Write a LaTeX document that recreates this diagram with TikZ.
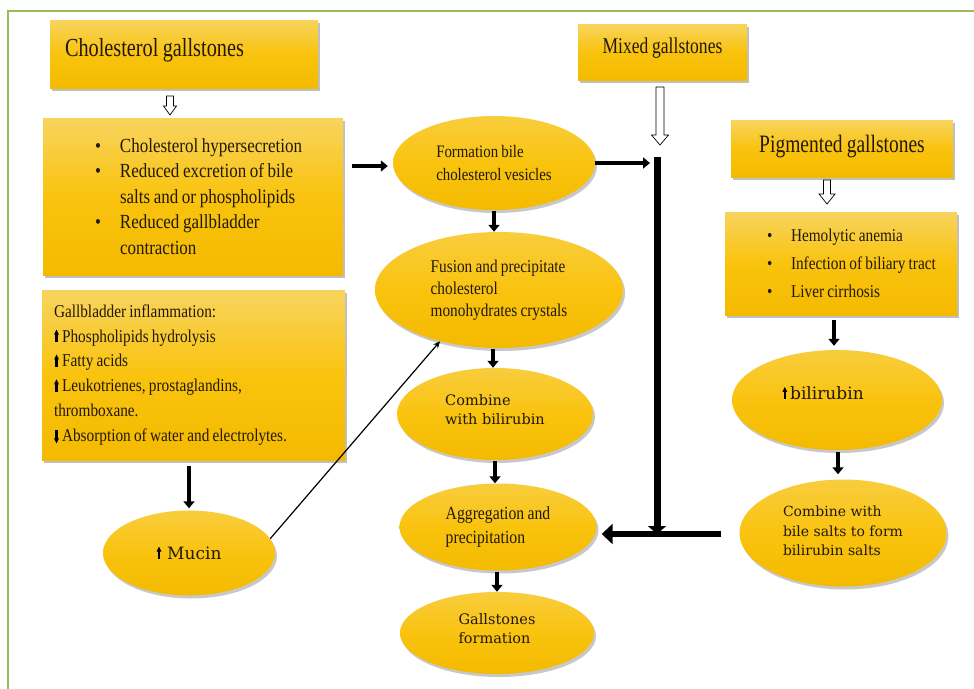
\documentclass[tikz,border=0pt]{standalone}
\usepackage{fontspec}
\setmainfont[FakeStretch=0.85,WordSpace=0.85]{Liberation Serif}
\newfontfamily\cond[FakeStretch=0.78,WordSpace=0.85]{Liberation Serif}
\newfontfamily\wide{DejaVu Serif}
\usetikzlibrary{arrows.meta,shapes.geometric,shadows,calc}
\definecolor{txt}{HTML}{22190A}
\definecolor{gtop}{HTML}{F8D45E}
\definecolor{gmid}{HTML}{F9C30E}
\definecolor{gbot}{HTML}{F4BA00}
\definecolor{frame}{HTML}{9BBB59}
\newcommand\myup{\tikz[baseline=0pt,x=1pt,y=1pt]{\fill[black] (-1.2,0) rectangle (1.2,8); \fill[black] (-2.5,7.5) -- (2.5,7.5) -- (0,12.5) -- cycle;}}
\newcommand\mydown{\tikz[baseline=2pt,x=1pt,y=1pt]{\fill[black] (-1.2,13) rectangle (1.2,4.5); \fill[black] (-2.5,5) -- (2.5,5) -- (0,0) -- cycle;}}
\newcommand\fs[2]{\fontsize{#1}{#2}\selectfont}
\begin{document}
\begin{tikzpicture}[x=1pt,y=-1pt,
  gbox/.style={rectangle, draw=none, top color=gtop, bottom color=gbot, middle color=gmid,
    drop shadow={shadow xshift=2pt, shadow yshift=-3pt, opacity=0.35, fill=black!70},
    text=txt, inner sep=0pt},
  gell/.style={ellipse, draw=none, top color=gtop!60!gmid, bottom color=gbot, middle color=gmid,
    drop shadow={shadow xshift=2pt, shadow yshift=-3pt, opacity=0.3, fill=black!70},
    text=txt, inner sep=0pt, align=flush left},
  thickarr/.style={line width=4pt, -{Triangle[length=7pt,width=11pt]}},
  bararr/.style={line width=7pt, -{Triangle[length=8pt,width=18pt]}},
  thinarr/.style={line width=1.2pt, -{Stealth[length=7pt,width=6pt]}},
  hollowsty/.style={draw=black, fill=white, line width=0.7pt, line join=miter},
  framesty/.style={draw=frame, line width=1.5pt}
]
\useasboundingbox (0,0) rectangle (974,688);
\fill[white] (0,0) rectangle (974,688);
\draw[framesty] (990,11) -- (8,11) -- (8,700);

% left column
\node[gbox, minimum width=268pt, minimum height=68pt, text width=238pt, align=flush left, text depth=14pt,
  font=\cond\fs{26}{30}] (chol) at (184,54) {Cholesterol gallstones};
\node[gbox, minimum width=300pt, minimum height=157pt, text width=260pt, inner xsep=20pt, align=flush left,
  font=\fs{20}{25.5}] (bul1) at (193,196.5) {%
  \hspace*{32pt}\makebox[25pt][l]{•}Cholesterol hypersecretion\\
  \hspace*{32pt}\makebox[25pt][l]{•}Reduced excretion of bile\\
  \hspace*{57pt}salts and or phospholipids\\
  \hspace*{32pt}\makebox[25pt][l]{•}Reduced gallbladder\\
  \hspace*{57pt}contraction};
\node[gbox, minimum width=303pt, minimum height=170pt, text width=279pt, inner xsep=12pt, align=flush left,
  font=\fs{18}{24.8}] (gb) at (193.5,375) {%
  Gallbladder inflammation:\\
  \myup\,Phospholipids hydrolysis\\
  \myup\,Fatty acids\\
  \myup\,Leukotrienes, prostaglandins,\\
  thromboxane.\\
  \mydown\,Absorption of water and electrolytes.};
\node[gell, minimum width=172pt, minimum height=85pt, font=\wide\fs{17}{20}] (muc) at (189,553)
  {\myup\,\,Mucin};

% centre column
\node[gell, minimum width=202pt, minimum height=94pt, font=\fs{17.5}{23}] (form) at (494,163)
  {Formation bile\\cholesterol vesicles};
\node[gell, minimum width=248pt, minimum height=116pt, font=\fs{18}{22}] (fus) at (499,290)
  {Fusion and precipitate\\cholesterol\\monohydrates crystals};
\node[gell, minimum width=196pt, minimum height=92pt, font=\wide\fs{14.5}{19.5}] (comb) at (495,414)
  {Combine\\with bilirubin\\[-10pt]\mbox{}};
\node[gell, minimum width=197pt, minimum height=87pt, font=\fs{18.5}{24}] (agg) at (498,527)
  {Aggregation and\\precipitation};
\node[gell, minimum width=194pt, minimum height=82pt, font=\wide\fs{14.5}{19.5}] (gal) at (497,633)
  {Gallstones\\formation\\[-10pt]\mbox{}};

% right column
\node[gbox, minimum width=169pt, minimum height=56pt, text depth=12pt, font=\cond\fs{22.5}{26}] (mix) at (662.5,52)
  {Mixed gallstones};
\node[gbox, minimum width=222pt, minimum height=57pt, text depth=10pt, font=\cond\fs{25}{29}] (pig) at (842,148.5)
  {Pigmented gallstones};
\node[gbox, minimum width=232pt, minimum height=103pt, text width=208pt, inner xsep=12pt, align=flush left,
  font=\fs{18}{28}] (bul2) at (841,263.5) {%
  \hspace*{30pt}\makebox[24pt][l]{•}Hemolytic anemia\\
  \hspace*{30pt}\makebox[24pt][l]{•}Infection of biliary tract\\
  \hspace*{30pt}\makebox[24pt][l]{•}Liver cirrhosis};
\node[gell, minimum width=210pt, minimum height=100pt, font=\wide\fs{17}{20}] (bili) at (837,400)
  {\myup\,bilirubin\hspace*{28pt}\\[-6pt]\mbox{}};
\node[gell, minimum width=207pt, minimum height=107pt, font=\wide\fs{14}{19.5}] (cbs) at (843,533)
  {Combine with\\bile salts to form\\bilirubin salts\\[-15pt]\mbox{}};

% hollow arrows
\coordinate (ha1) at (170,96);
\draw[hollowsty] (ha1) ++(-3.5,0) -- ++(0,10) -- ++(-3,0) -- ++(6.5,9) -- ++(6.5,-9) -- ++(-3,0) -- ++(0,-10) -- cycle;
\coordinate (ha2) at (660,87);
\draw[hollowsty] (ha2) ++(-4,0) -- ++(0,48) -- ++(-4.5,0) -- ++(8.5,10) -- ++(8.5,-10) -- ++(-4.5,0) -- ++(0,-48) -- cycle;
\coordinate (ha3) at (827,180);
\draw[hollowsty] (ha3) ++(-3.5,0) -- ++(0,14) -- ++(-4.5,0) -- ++(8,10) -- ++(8,-10) -- ++(-4.5,0) -- ++(0,-14) -- cycle;

% bar
\coordinate (bartop) at (657,157);
\coordinate (barbot) at (657,534);
\draw[bararr] (bartop) -- (barbot);

% connectors
\draw[thickarr] ($(bul1.east |- form.west)+(9,3)$) -- ($(form.west)+(-5,3)$);
\draw[thickarr] (form.east) -- ($(bartop |- form.east)+(-7,0)$);
\draw[thickarr] ($(form.south)+(0,1)$) -- (form.south |- fus.north);
\draw[thickarr] ($(comb.north |- fus.south)+(-2,1)$) -- ($(comb.north)+(-2,0)$);
\draw[thickarr] ($(comb.south)+(0,1)$) -- (comb.south |- agg.north);
\draw[thickarr] ($(agg.south)+(-1,1)$) -- ($(agg.south |- gal.north)+(-1,0)$);
\draw[thickarr] (muc.north |- gb.south) ++(0,6) -- ($(muc.north)+(0,-2)$);
\draw[thinarr] (muc.10) -- (fus.221);
\draw[thickarr] ($(bul2.south)+(-7,5)$) -- ($(bul2.south |- bili.north)+(-7,-4)$);
\draw[thickarr] ($(bili.south)+(1,2)$) -- ($(bili.south |- cbs.north)+(1,-5)$);
\draw[line width=6.5pt, -{Triangle[length=11pt,width=20pt]}] ($(cbs.west |- barbot)+(-18,0)$) -- ($(agg.east |- barbot)+(5,0)$);
\end{tikzpicture}
\end{document}
